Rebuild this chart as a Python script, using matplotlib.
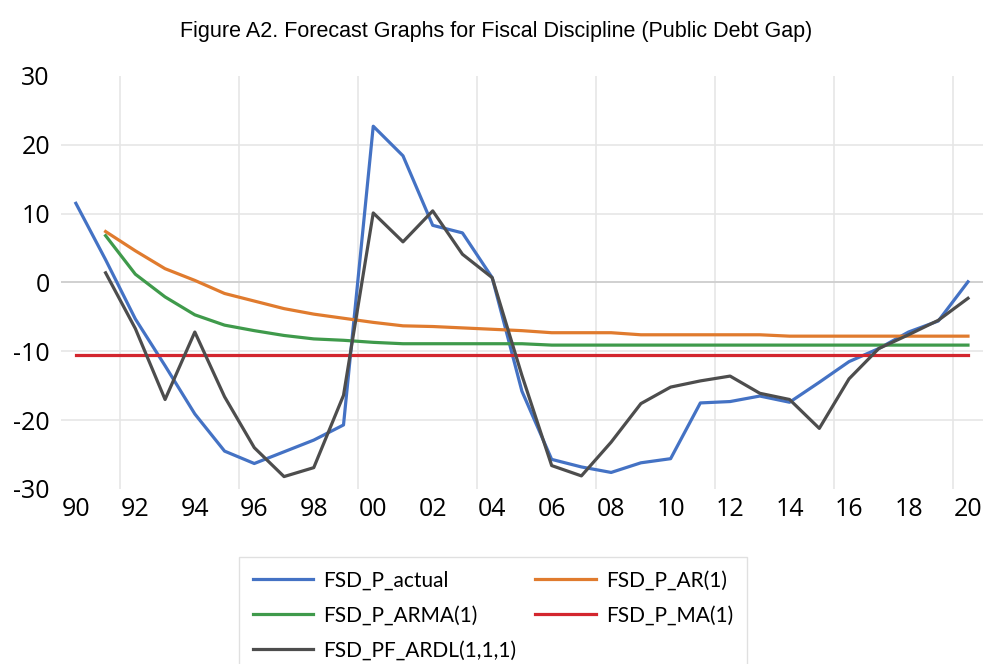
import numpy as np
import matplotlib.pyplot as plt

plt.rcParams['axes.unicode_minus'] = False

# years 1990..2020
anos = np.arange(1990, 2021)
rotulos = ['90', '92', '94', '96', '98', '00', '02', '04', '06', '08',
           '10', '12', '14', '16', '18', '20']

# series
actual = [11.5, 3.3, -5.3, -12.1, -19.1, -24.5, -26.3, -24.6, -22.9, -20.7,
          22.7, 18.4, 8.3, 7.2, 0.7, -15.8, -25.7, -26.8, -27.6, -26.2,
          -25.6, -17.5, -17.3, -16.5, -17.4, -14.5, -11.5, -9.6, -7.2, -5.6, 0.1]
ar1 = [np.nan, 7.4, 4.6, 2.0, 0.3, -1.6, -2.7, -3.8, -4.6, -5.2,
       -5.8, -6.3, -6.4, -6.6, -6.8, -7.0, -7.3, -7.3, -7.3, -7.6,
       -7.6, -7.6, -7.6, -7.6, -7.8, -7.8, -7.8, -7.8, -7.8, -7.8, -7.8]
arma1 = [np.nan, 6.8, 1.2, -2.1, -4.7, -6.2, -7.0, -7.7, -8.2, -8.4,
         -8.7, -8.9, -8.9, -8.9, -8.9, -8.9, -9.1, -9.1, -9.1, -9.1,
         -9.1, -9.1, -9.1, -9.1, -9.1, -9.1, -9.1, -9.1, -9.1, -9.1, -9.1]
ma1 = [-10.6] * 31
ardl = [np.nan, 1.4, -6.7, -17.0, -7.2, -16.6, -24.0, -28.2, -26.9, -16.4,
        10.1, 5.9, 10.4, 4.1, 0.7, -13.5, -26.6, -28.1, -23.2, -17.6,
        -15.2, -14.3, -13.6, -16.1, -17.0, -21.2, -14.0, -9.6, -7.6, -5.5, -2.3]

fonte_eixo = ['Open Sans', 'DejaVu Sans']
fonte_leg = ['Lato', 'DejaVu Sans']

fig = plt.figure(figsize=(9.87, 6.64), dpi=100)
ax = fig.add_axes([0.0618, 0.2636, 0.934, 0.622])

l1, = ax.plot(anos, actual, color='#4472C4', lw=2.3, label='FSD_P_actual')
l2, = ax.plot(anos, ar1, color='#E07B2E', lw=2.3, label='FSD_P_AR(1)')
l3, = ax.plot(anos, arma1, color='#3F9A4B', lw=2.3, label='FSD_P_ARMA(1)')
l4, = ax.plot(anos, ma1, color='#D3262E', lw=2.3, label='FSD_P_MA(1)')
l5, = ax.plot(anos, ardl, color='#4D4D4D', lw=2.3, label='FSD_PF_ARDL(1,1,1)')

ax.set_xlim(1989.5, 2020.5)
ax.set_ylim(-30, 30)

# gridlines (Excel style: between categories, every 4)
for xg in np.arange(1991.5, 2020, 4):
    ax.axvline(xg, color='#e6e6e6', lw=1.2, zorder=0)
for yg in [-20, -10, 10, 20]:
    ax.axhline(yg, color='#e6e6e6', lw=1.2, zorder=0)
ax.axhline(0, color='#d0d0d0', lw=1.4, zorder=0)

ax.set_xticks(anos[::2])
ax.set_xticklabels(rotulos)
ax.set_yticks(np.arange(-30, 31, 10))
ax.tick_params(length=0, labelsize=18, pad=6)
ax.tick_params(axis='y', pad=8)
for t in ax.get_xticklabels() + ax.get_yticklabels():
    t.set_family(fonte_eixo)
for s in ax.spines.values():
    s.set_visible(False)

fig.suptitle('Figure A2. Forecast Graphs for Fiscal Discipline (Public Debt Gap)',
             x=0.503, y=0.968, fontsize=15.5,
             family=['Liberation Sans', 'DejaVu Sans'])

leg = fig.legend(handles=[l1, l3, l5, l2, l4], ncol=2,
                 loc='upper left', bbox_to_anchor=(239 / 987, 1 - 557 / 664),
                 borderaxespad=0,
                 prop={'family': fonte_leg, 'size': 15}, frameon=True,
                 fancybox=False, edgecolor='#d9d9d9', handlelength=2.9,
                 columnspacing=0.9, labelspacing=0.72, borderpad=0.65,
                 handletextpad=0.5)
leg.get_frame().set_linewidth(1.0)

plt.savefig('out.png', dpi=100)
